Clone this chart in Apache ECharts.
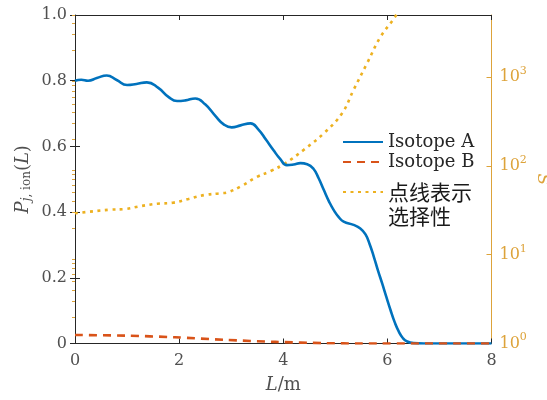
<!DOCTYPE html>
<html>
<head>
<meta charset="utf-8">
<script src="https://cdn.jsdelivr.net/npm/echarts@6/dist/echarts.min.js"></script>
<style>html,body{margin:0;padding:0;background:#fff;}#c{width:547px;height:400px;}</style>
</head>
<body>
<div id="c"></div>
<script>
// Isotope A : [L (m), P]
const isotopeA = [[0,0.800],[0.12,0.803],[0.25,0.800],[0.42,0.808],[0.61,0.816],[0.8,0.802],[1.0,0.787],[1.18,0.790],[1.38,0.795],[1.6,0.778],[1.8,0.750],[1.96,0.738],[2.12,0.740],[2.31,0.746],[2.5,0.728],[2.7,0.692],[2.85,0.668],[3.01,0.658],[3.18,0.664],[3.37,0.670],[3.52,0.652],[3.67,0.620],[3.81,0.589],[3.94,0.562],[4.07,0.543],[4.2,0.545],[4.33,0.549],[4.46,0.546],[4.58,0.532],[4.68,0.503],[4.78,0.467],[4.88,0.432],[4.97,0.406],[5.07,0.384],[5.16,0.371],[5.35,0.361],[5.48,0.350],[5.58,0.332],[5.66,0.302],[5.74,0.264],[5.82,0.222],[5.90,0.183],[5.98,0.142],[6.06,0.102],[6.14,0.065],[6.22,0.036],[6.30,0.016],[6.38,0.006],[6.5,0.001],[6.7,0],[8,0]];
// Isotope B : [L (m), P]
const isotopeB = [[0,0.026],[0.96,0.024],[1.92,0.019],[2.88,0.011],[3.85,0.005],[4.81,0.001],[5.5,0],[8,0]];
// Selectivity S : [L (m), S]
const selectivity = [[0,29.3],[0.35,30.8],[0.67,32.1],[0.96,32.7],[1.27,35.3],[1.58,37.5],[1.88,38.5],[2.18,42.4],[2.49,47],[2.78,49.1],[2.93,50.4],[3.2,59.4],[3.48,74.4],[3.76,87.6],[4.04,107],[4.39,151],[4.78,233],[5.13,391],[5.35,716],[5.61,1430],[5.87,2850],[6.15,4790],[6.3,7000]];
const xTicks = [0,2,4,6,8];
const yTicks = [0,0.2,0.4,0.6,0.8,1.0];
const sTicks = [1,10,100,1000];
const sMinorTicks = [2,3,4,5,6,7,8,9,20,30,40,50,60,70,80,90,200,300,400,500,600,700,800,900,2000,3000,4000,5000];
const names = ['Isotope A','Isotope B','点线表示\n选择性'];

const SERIF = 'DejaVu Serif';
const AX = '#262626';
const TXT = '#505050';
const ORANGE = '#DDA33A';

const chart = echarts.init(document.getElementById('c'), null, {renderer:'canvas'});
const option = {
  animation:false,
  backgroundColor:'#fff',
  grid: {left:75, right:55.5, top:15, bottom:56.5, containLabel:false, outerBoundsMode:'none'},
  xAxis: [{
    type:'value', position:'bottom', min:0, max:8, interval:2,
    axisLine:{show:true, onZero:false, lineStyle:{color:AX, width:1}},
    axisTick:{show:true, inside:true, length:5, lineStyle:{color:AX}},
    axisLabel:{show:true, fontFamily:SERIF, fontSize:16, color:TXT, margin:9,
      customValues: xTicks, formatter: v => String(v)},
    splitLine:{show:false},
    name:'{i|L}{n|/m}', nameLocation:'middle', nameGap:33, nameMoveOverlap:false,
    nameTextStyle:{fontFamily:SERIF, fontSize:18, color:TXT,
      rich:{i:{fontFamily:SERIF, fontStyle:'italic', fontSize:18, color:TXT}, n:{fontFamily:SERIF, fontSize:18, color:TXT}}}
  },{
    type:'value', position:'top', min:0, max:8, interval:2,
    axisLine:{show:true, onZero:false, lineStyle:{color:AX, width:1}},
    axisTick:{show:true, inside:true, length:5, lineStyle:{color:AX}},
    axisLabel:{show:false}, splitLine:{show:false}
  }],
  yAxis: [{
    type:'value', position:'left', min:0, max:1, interval:0.2,
    axisLine:{show:true, onZero:false, lineStyle:{color:AX, width:1}},
    axisTick:{show:true, inside:true, length:5, lineStyle:{color:AX}},
    axisLabel:{fontFamily:SERIF, fontSize:16, color:TXT, margin:8,
      customValues: yTicks,
      formatter: v => (Math.abs(v) < 1e-9 ? '0' : v.toFixed(1))},
    splitLine:{show:false},
    name:'{i|P}{sub|j}{subn|, ion}{n|(}{i|L}{n|)}', nameLocation:'middle', nameGap:42, nameRotate:90, nameMoveOverlap:false,
    nameTextStyle:{fontFamily:SERIF, fontSize:18, color:TXT,
      rich:{
        i:{fontFamily:SERIF, fontStyle:'italic', fontSize:18, color:TXT},
        n:{fontFamily:SERIF, fontSize:18, color:TXT},
        sub:{fontFamily:SERIF, fontStyle:'italic', fontSize:12, color:TXT, padding:[8,0,0,0]},
        subn:{fontFamily:SERIF, fontSize:12, color:TXT, padding:[8,0,0,0]}
      }}
  },{
    type:'value', position:'right', min:0, max:1, interval:0.2,
    axisLine:{show:false},
    axisTick:{show:true, inside:true, length:5, lineStyle:{color:AX}},
    axisLabel:{show:false}, splitLine:{show:false}
  },{
    type:'log', logBase:10, position:'right', min:1, max:5000,
    axisLine:{show:true, onZero:false, lineStyle:{color:ORANGE, width:1}},
    axisTick:{show:true, inside:true, length:5, lineStyle:{color:ORANGE}, customValues: sTicks},
    axisLabel:{show:true, fontFamily:SERIF, fontSize:16, color:ORANGE, margin:8,
      customValues: sTicks,
      formatter: v => { const n = Math.round(Math.log10(v)); return '10{sup|' + n + '}'; },
      rich:{sup:{fontFamily:SERIF, fontSize:11, color:ORANGE, padding:[0,0,12,0]}}},
    splitLine:{show:false},
    name:'{i|S}', nameLocation:'middle', nameGap:42, nameRotate:-90, nameMoveOverlap:false,
    nameTextStyle:{fontFamily:SERIF, fontSize:17, color:ORANGE,
      rich:{i:{fontFamily:SERIF, fontStyle:'italic', fontSize:17, color:ORANGE}}}
  },{
    type:'log', logBase:10, position:'right', min:1, max:5000,
    axisLine:{show:false},
    axisTick:{show:true, inside:true, length:3, lineStyle:{color:ORANGE}, customValues: sMinorTicks},
    axisLabel:{show:false}, splitLine:{show:false}
  }],
  legend: [{
    data:[names[0], names[1]], orient:'vertical', left:342, top:132, padding:0,
    itemWidth:40, itemHeight:20, itemGap:0,
    selectedMode:false,
    itemStyle:{opacity:0},
    textStyle:{fontFamily:SERIF, fontSize:18, lineHeight:20, color:AX}
  },{
    data:[names[2]], orient:'vertical', left:342, top:156, padding:0,
    itemWidth:40, itemHeight:20, itemGap:0,
    selectedMode:false,
    itemStyle:{opacity:0},
    formatter: name => '\u3000\n' + name,
    textStyle:{fontFamily:'Noto Sans CJK SC', fontSize:21, lineHeight:24, color:'#1a1a1a'}
  }],
  series: [{
    name:names[0], type:'line', xAxisIndex:0, yAxisIndex:0, data:isotopeA,
    symbol:'none', smooth:0.5, clip:true,
    lineStyle:{color:'#0072BD', width:2.6}, itemStyle:{color:'#0072BD'}, z:3
  },{
    name:names[1], type:'line', xAxisIndex:0, yAxisIndex:0, data:isotopeB,
    symbol:'none', smooth:0.3, clip:true,
    lineStyle:{color:'#D95319', width:2.6, type:[8,6]}, itemStyle:{color:'#D95319'}, z:4
  },{
    name:names[2], type:'line', xAxisIndex:0, yAxisIndex:2, data:selectivity,
    symbol:'none', smooth:0.4, clip:true,
    lineStyle:{color:'#EDB120', width:2.6, type:[3,4.5]}, itemStyle:{color:'#EDB120'}, z:2
  }]
};
chart.setOption(option);
</script>
</body>
</html>
